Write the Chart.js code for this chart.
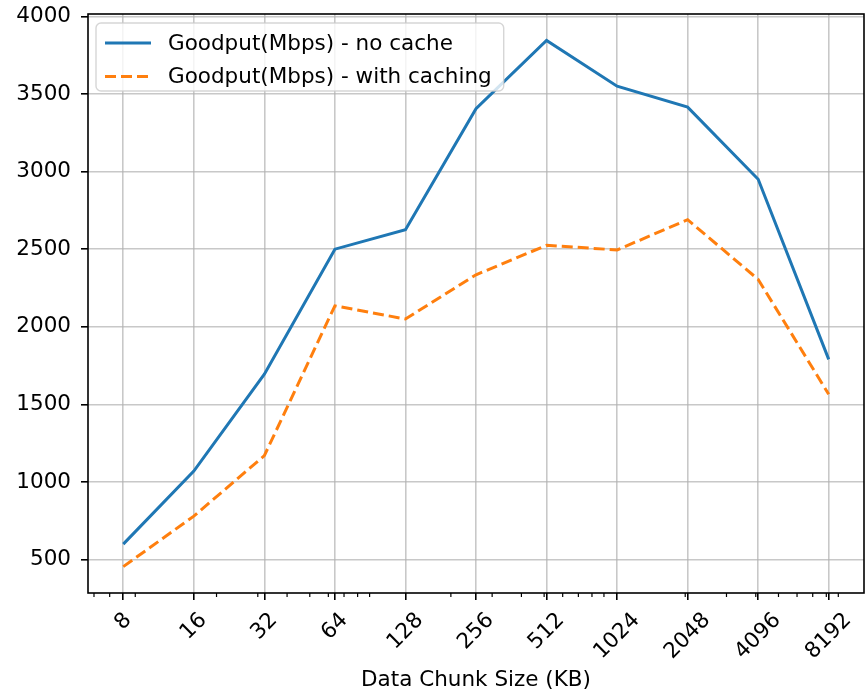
<!DOCTYPE html>
<html>
<head>
<meta charset="utf-8">
<title>Goodput vs Data Chunk Size</title>
<script src="https://cdn.jsdelivr.net/npm/chart.js@4"></script>
<style>
  html, body { margin: 0; padding: 0; background: #ffffff; }
  canvas { display: block; }
</style>
</head>
<body>
<canvas id="chart" width="867" height="693"></canvas>
<script>
// Chunk sizes (KB) on a log axis, and measured goodput for each configuration
const chunkSizes = [8, 16, 32, 64, 128, 256, 512, 1024, 2048, 4096, 8192];
const chunkLabels = chunkSizes.map(String);
const noCache = [600, 1070, 1695, 2500, 2625, 3405, 3845, 3550, 3415, 2950, 1790];
const withCaching = [455, 780, 1170, 2135, 2050, 2335, 2525, 2495, 2690, 2305, 1565];
const yTicks = [500, 1000, 1500, 2000, 2500, 3000, 3500, 4000];
const seriesNames = ['Goodput(Mbps) - no cache', 'Goodput(Mbps) - with caching'];
const xTitle = 'Data Chunk Size (KB)';

const FONT = '"DejaVu Sans", "Liberation Sans", sans-serif';
const FONT_SIZE = 21.5;
const BLUE = '#1f77b4';
const ORANGE = '#ff7f0e';
const GRID = 'rgba(176,176,176,0.7)';

// half a doubling of padding on each side of the log axis
const xMin = chunkSizes[0] / Math.SQRT2;
const xMax = chunkSizes[chunkSizes.length - 1] * Math.SQRT2;

// minor ticks of a base-10 log axis (2..9 x 10^k), skipping the major positions
function minorLogTicks(lo, hi) {
  const out = [];
  for (let k = Math.floor(Math.log10(lo)); k <= Math.ceil(Math.log10(hi)); k++) {
    for (let d = 2; d <= 9; d++) {
      const v = d * Math.pow(10, k);
      if (v >= lo && v <= hi && !chunkSizes.includes(v)) out.push(v);
    }
  }
  return out;
}
const xMinor = minorLogTicks(xMin, xMax);

const toPoints = (vals) => chunkSizes.map((c, i) => ({ x: c, y: vals[i] }));

// frame, minor ticks, rotated tick labels and an in-plot legend
const plotDecor = {
  id: 'plotDecor',
  afterDatasetsDraw(chart) {
    const { ctx, chartArea: a } = chart;
    ctx.save();
    ctx.font = FONT_SIZE + 'px ' + FONT;
    const tw = Math.max(...chart.data.datasets.map(d => ctx.measureText(d.label).width));
    const bx = a.left + 8, by = a.top + 9;
    const bw = 72 + tw + 12, bh = 68;
    ctx.beginPath();
    ctx.roundRect(bx, by, bw, bh, 5);
    ctx.fillStyle = 'rgba(255,255,255,0.8)';
    ctx.fill();
    ctx.lineWidth = 1.4;
    ctx.strokeStyle = 'rgba(204,204,204,0.8)';
    ctx.stroke();
    chart.data.datasets.forEach((d, i) => {
      const y = by + 20 + i * 33.5;
      ctx.beginPath();
      ctx.setLineDash(d.borderDash || []);
      ctx.lineWidth = d.borderWidth;
      ctx.strokeStyle = d.borderColor;
      ctx.moveTo(bx + 9, y);
      ctx.lineTo(bx + 55, y);
      ctx.stroke();
      ctx.setLineDash([]);
      ctx.fillStyle = '#000000';
      ctx.textAlign = 'left';
      ctx.textBaseline = 'middle';
      ctx.fillText(d.label, bx + 72, y + 1);
    });
    ctx.restore();
  },
  afterDraw(chart) {
    const { ctx, chartArea: a, scales: { x } } = chart;
    ctx.save();
    // spines
    ctx.strokeStyle = '#000000';
    ctx.lineWidth = 1.6;
    ctx.strokeRect(a.left, a.top, a.right - a.left, a.bottom - a.top);
    // minor ticks on the x axis
    ctx.lineWidth = 1.2;
    xMinor.forEach(v => {
      const px = x.getPixelForValue(v);
      ctx.beginPath();
      ctx.moveTo(px, a.bottom);
      ctx.lineTo(px, a.bottom + 4);
      ctx.stroke();
    });
    // tick labels rotated 45 degrees, centred under each tick
    ctx.font = FONT_SIZE + 'px ' + FONT;
    ctx.fillStyle = '#000000';
    ctx.textAlign = 'center';
    ctx.textBaseline = 'middle';
    x.ticks.forEach(t => {
      const idx = chunkSizes.indexOf(t.value);
      if (idx < 0) return;
      const label = chunkLabels[idx];
      const px = x.getPixelForValue(t.value);
      const w = ctx.measureText(label).width;
      const bb = (w + 14) * Math.SQRT1_2;
      const cy = a.bottom + 19 + bb / 2;
      ctx.save();
      ctx.translate(px, cy);
      ctx.rotate(-Math.PI / 4);
      ctx.fillText(label, 0, 0);
      ctx.restore();
    });
    ctx.restore();
  }
};

new Chart(document.getElementById('chart'), {
  type: 'line',
  data: {
    datasets: [
      {
        label: seriesNames[0],
        data: toPoints(noCache),
        borderColor: BLUE,
        backgroundColor: BLUE,
        borderWidth: 3,
        pointRadius: 0,
        tension: 0,
        fill: false
      },
      {
        label: seriesNames[1],
        data: toPoints(withCaching),
        borderColor: ORANGE,
        backgroundColor: ORANGE,
        borderWidth: 3,
        borderDash: [11, 5],
        pointRadius: 0,
        tension: 0,
        fill: false
      }
    ]
  },
  options: {
    responsive: false,
    animation: false,
    devicePixelRatio: 1,
    layout: { padding: { top: 14, right: 3, left: 0, bottom: 0 } },
    plugins: {
      legend: { display: false },
      tooltip: { enabled: false },
      title: { display: false }
    },
    scales: {
      x: {
        type: 'logarithmic',
        min: xMin,
        max: xMax,
        afterBuildTicks(scale) {
          scale.ticks = chunkSizes.map(v => ({ value: v }));
        },
        afterFit(scale) {
          scale.height = 100;
          scale.paddingLeft = 0;
          scale.paddingRight = 0;
        },
        ticks: { display: false },
        grid: {
          color: GRID,
          lineWidth: 1.6,
          drawTicks: true,
          tickLength: 7,
          tickColor: '#000000',
          tickWidth: 1.6
        },
        border: { display: false },
        title: {
          display: true,
          text: xTitle,
          color: '#000000',
          font: { family: FONT, size: FONT_SIZE },
          padding: { top: 0, bottom: 0 }
        }
      },
      y: {
        type: 'linear',
        min: 285,
        max: 4015,
        afterBuildTicks(scale) {
          scale.ticks = yTicks.map(v => ({ value: v }));
        },
        afterFit(scale) {
          scale.width = 88;
          scale.paddingTop = 0;
          scale.paddingBottom = 0;
        },
        ticks: {
          color: '#000000',
          padding: 10,
          font: { family: FONT, size: FONT_SIZE },
          callback: (v) => String(v)
        },
        grid: {
          color: GRID,
          lineWidth: 1.6,
          drawTicks: true,
          tickLength: 7,
          tickColor: '#000000',
          tickWidth: 1.6
        },
        border: { display: false }
      }
    }
  },
  plugins: [plotDecor]
});
</script>
</body>
</html>
